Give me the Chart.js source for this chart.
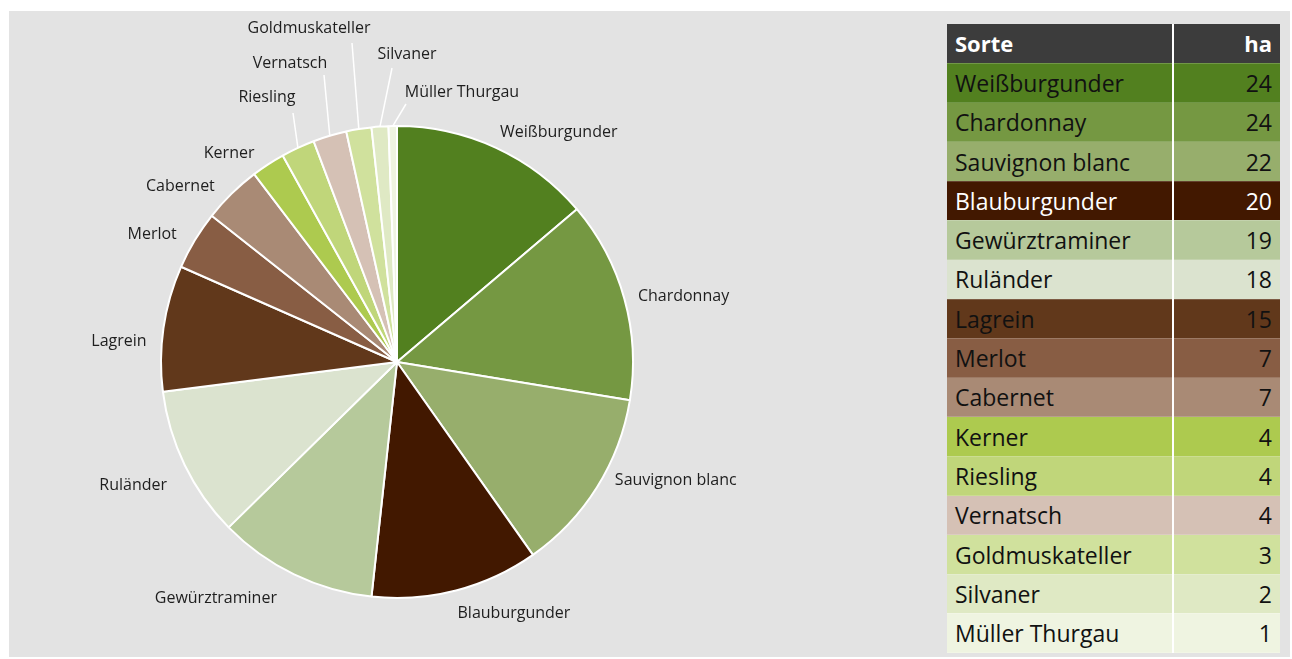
<!DOCTYPE html>
<html>
<head>
<meta charset="utf-8">
<script src="https://cdn.jsdelivr.net/npm/chart.js@4/dist/chart.umd.min.js"></script>
<style>
  body { margin: 0; background: #fff; font-family: "Open Sans", sans-serif; }
  #panel { position: absolute; left: 9px; top: 11px; width: 1281px; height: 646px; background: #e3e3e3; }
  #pieWrap { position: absolute; left: 0; top: 0; width: 776px; height: 646px; }
  #tbl { position: absolute; left: 938px; top: 13px; width: 333px; border-collapse: collapse; table-layout: fixed; }
  #tbl td, #tbl th { height: 39.3px; padding: 0 8px; font-size: 23px; font-weight: normal; color: #111; box-sizing: border-box;
    border-bottom: 1px solid rgba(255,255,255,0.18); white-space: nowrap; }
  #tbl th { background: #3c3c3c; color: #fff; font-weight: bold; text-align: left; font-size: 22px; }
  #tbl .num { text-align: right; border-left: 2px solid #fff; }
</style>
</head>
<body>
<div id="panel">
  <div id="pieWrap"><canvas id="pie"></canvas></div>
  <table id="tbl">
    <colgroup><col style="width:226px"><col style="width:107px"></colgroup>
    <thead><tr><th>Sorte</th><th class="num">ha</th></tr></thead>
    <tbody id="rows"></tbody>
  </table>
</div>
<script>
// Rebsorten und Fläche in Hektar
const sorten = ['Weißburgunder', 'Chardonnay', 'Sauvignon blanc', 'Blauburgunder', 'Gewürztraminer',
  'Ruländer', 'Lagrein', 'Merlot', 'Cabernet', 'Kerner', 'Riesling', 'Vernatsch',
  'Goldmuskateller', 'Silvaner', 'Müller Thurgau'];
const hektar = [24, 24, 22, 20, 19, 18, 15, 7, 7, 4, 4, 4, 3, 2, 1];
const farben = ['#52801f', '#759842', '#97ae6c', '#421800', '#b6c99b', '#dbe3cf', '#61381b', '#885d44',
  '#a98a75', '#adca4f', '#c0d67a', '#d5c1b5', '#d0e19d', '#dfe9c4', '#eff4e1'];
const textFarben = sorten.map((s, i) => i === 3 ? '#fff' : '#111');

// label tweaks (px) for the plain outside labels
const nudge = [[-2, 5], [0, 4], [6, -19], [-2, 1], [-11, 3], [-5, 10], [-3, 17], [-6, 6], [-7, 9], [-6, 8]];
// small slices at the top get a leader line: line end + text centre, relative to pie centre
const callouts = {
  10: { line: [-104, -249], text: [-130, -265] },
  11: { line: [-73, -287], text: [-107, -299] },
  12: { line: [-45, -319], text: [-88, -334] },
  13: { line: [-5, -294], text: [10, -308] },
  14: { line: [9, -258], text: [65, -270] }
};

// table
const tbody = document.getElementById('rows');
sorten.forEach((s, i) => {
  const tr = document.createElement('tr');
  tr.style.background = farben[i];
  tr.innerHTML = '<td style="color:' + textFarben[i] + '">' + s + '</td><td class="num" style="color:' +
    textFarben[i] + '">' + hektar[i] + '</td>';
  tbody.appendChild(tr);
});

const outLabels = {
  id: 'outLabels',
  afterDatasetsDraw(chart) {
    const ctx = chart.ctx;
    const meta = chart.getDatasetMeta(0);
    ctx.save();
    ctx.font = '16px "Open Sans"';
    ctx.textBaseline = 'middle';
    ctx.textAlign = 'center';
    meta.data.forEach((arc, i) => {
      const p = arc.getProps(['x', 'y', 'startAngle', 'endAngle', 'outerRadius'], true);
      const mid = (p.startAngle + p.endAngle) / 2;
      const cos = Math.cos(mid), sin = Math.sin(mid);
      const w = ctx.measureText(sorten[i]).width;
      let tx, ty;
      const c = callouts[i];
      if (c) {
        ctx.strokeStyle = '#fff';
        ctx.lineWidth = 1.5;
        ctx.beginPath();
        ctx.moveTo(p.x + cos * p.outerRadius, p.y + sin * p.outerRadius);
        ctx.lineTo(p.x + c.line[0], p.y + c.line[1]);
        ctx.stroke();
        tx = p.x + c.text[0];
        ty = p.y + c.text[1];
      } else {
        const ax = p.x + cos * (p.outerRadius + 14);
        const ay = p.y + sin * (p.outerRadius + 14);
        const n = nudge[i] || [0, 0];
        tx = (cos >= 0 ? ax + w / 2 : ax - w / 2) + n[0];
        ty = ay + sin * 9 + n[1];
      }
      ctx.fillStyle = '#1e1e1e';
      ctx.fillText(sorten[i], tx, ty);
    });
    ctx.restore();
  }
};

new Chart(document.getElementById('pie'), {
  type: 'pie',
  data: {
    labels: sorten,
    datasets: [{
      data: hektar,
      backgroundColor: farben,
      borderColor: '#fff',
      borderWidth: 2,
      radius: 236
    }]
  },
  options: {
    responsive: true,
    maintainAspectRatio: false,
    animation: false,
    layout: { padding: { top: 115, bottom: 59 } },
    plugins: { legend: { display: false }, tooltip: { enabled: false } }
  },
  plugins: [outLabels]
});
</script>
</body>
</html>
